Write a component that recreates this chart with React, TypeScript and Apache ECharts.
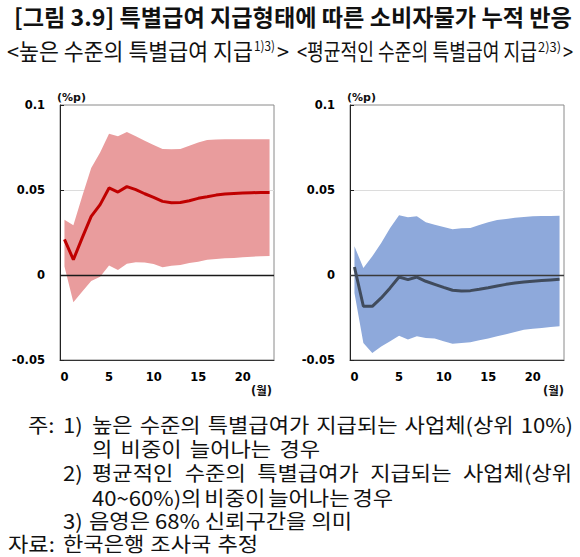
import React, { useEffect, useRef } from "react";
import * as echarts from "echarts";

const months = ["0","1","2","3","4","5","6","7","8","9","10","11","12","13","14","15","16","17","18","19","20","21","22","23"];
const yTicks = { min: -0.05, max: 0.1, step: 0.05 };

const leftMean = [0.021, 0.009, 0.022, 0.0345, 0.0414, 0.0512, 0.0488, 0.052, 0.0502, 0.0478, 0.0457, 0.0433, 0.0425, 0.0427, 0.0437, 0.0451, 0.046, 0.047, 0.0476, 0.048, 0.0482, 0.0484, 0.0486, 0.0486];
const leftUpper = [0.0325, 0.0292, 0.0465, 0.063, 0.072, 0.0831, 0.0816, 0.0841, 0.0816, 0.079, 0.0765, 0.0741, 0.074, 0.0741, 0.076, 0.078, 0.0794, 0.0797, 0.0798, 0.0798, 0.0798, 0.0798, 0.0798, 0.0798];
const leftLower = [0.005, -0.016, -0.0097, -0.0035, -0.001, 0.0056, 0.003, 0.0066, 0.0075, 0.0073, 0.0065, 0.0045, 0.0055, 0.0059, 0.007, 0.0078, 0.009, 0.0094, 0.0098, 0.01, 0.0104, 0.0108, 0.011, 0.0112];

const rightMean = [0.0047, -0.0184, -0.0184, -0.0135, -0.0076, -0.0012, -0.0027, -0.0012, -0.0037, -0.0055, -0.0073, -0.009, -0.0094, -0.0092, -0.0084, -0.0075, -0.0065, -0.0055, -0.0047, -0.0041, -0.0037, -0.0033, -0.0029, -0.0025];
const rightUpper = [0.0169, 0.0041, 0.011, 0.0188, 0.0276, 0.0351, 0.0339, 0.0345, 0.031, 0.0296, 0.0282, 0.0269, 0.0275, 0.0276, 0.0294, 0.031, 0.0324, 0.0329, 0.0337, 0.0341, 0.0345, 0.0347, 0.0347, 0.0349];
const rightLower = [-0.0106, -0.04, -0.0459, -0.042, -0.039, -0.0357, -0.038, -0.0361, -0.0371, -0.0373, -0.039, -0.0404, -0.04, -0.0396, -0.0384, -0.0373, -0.0361, -0.0349, -0.0335, -0.0322, -0.0316, -0.0312, -0.0306, -0.0302];

const titleText = "[그림 3.9] 특별급여 지급형태에 따른 소비자물가 누적 반응";
const subLeft = "<높은 수준의 특별급여 지급";
const subLeftSup = "1)3)";
const subRight = "<평균적인 수준의 특별급여 지급";
const subRightSup = "2)3)";
const yUnit = "(%p)";
const xUnit = "(월)";

const KFONT = '"Noto Sans CJK KR", "Noto Sans", sans-serif';
const AFONT = '"DejaVu Sans", "Noto Sans CJK KR", sans-serif';

export default function App() {
  const ref = useRef<HTMLDivElement>(null);

  useEffect(() => {
    if (!ref.current) return;
    const chart = echarts.init(ref.current, null, { renderer: "svg" });
    const canvas = document.createElement("canvas");
    const ctx = canvas.getContext("2d")!;
    const measure = (t: string, size: number, weight: string) => {
      ctx.font = `${weight} ${size}px ${KFONT}`;
      return ctx.measureText(t).width;
    };
    const txt = (t: string, x: number, y: number, size: number, weight: string, sy: number, family = KFONT) => ({
      type: "text",
      x,
      y,
      scaleY: sy,
      silent: true,
      style: { text: t, x: 0, y: 0, fontSize: size, lineHeight: Math.ceil(size), fontWeight: weight, fontFamily: family, fill: "#111", align: "left", verticalAlign: "middle" },
    });
    const justify = (words: string[], x0: number, x1: number, y: number, size: number, weight: string, sy: number) => {
      const ws = words.map((w) => measure(w, size, weight));
      const total = ws.reduce((a, b) => a + b, 0);
      const gap = words.length > 1 ? (x1 - x0 - total) / (words.length - 1) : 0;
      let x = x0;
      const out: any[] = [];
      words.forEach((w, i) => {
        out.push(txt(w, x, y, size, weight, sy));
        x += ws[i] + gap;
      });
      return out;
    };
    const fit = (t: string, x0: number, x1: number, y: number, target: number, weight: string) => {
      const sx = (x1 - x0) / measure(t, target, weight);
      const size = target * sx;
      return { el: txt(t, x0, y, size, weight, 1 / sx), size, sy: 1 / sx };
    };

    const NT = 20;
    const nsx = 263 / measure("음영은 68% 신뢰구간을 의미", NT, "normal");
    const NS = NT * nsx;
    const NSY = 1 / nsx;

    const graphics: any[] = [];
    graphics.push(fit(titleText, 14, 572, 16.5, 23, "bold").el);
    const sl = fit(subLeft, 7, 253, 50, 22.5, "normal");
    graphics.push(sl.el);
    graphics.push(fit(subLeftSup, 254, 275, 46, 13, "normal").el);
    graphics.push(txt(">", 277, 50, sl.size, "normal", sl.sy));
    const sr = fit(subRight, 297, 537, 50, 22.5, "normal");
    graphics.push(sr.el);
    graphics.push(fit(subRightSup, 538, 561, 46, 13, "normal").el);
    graphics.push(txt(">", 563, 50, sr.size, "normal", sr.sy));

    graphics.push(txt(yUnit, 57, 97.5, 11, "bold", 1, AFONT));
    graphics.push(txt(yUnit, 347, 97.5, 11, "bold", 1, AFONT));
    graphics.push(txt(xUnit, 251, 391, 11.5, "bold", 1, AFONT));
    graphics.push(txt(xUnit, 543, 391, 11.5, "bold", 1, AFONT));

    graphics.push(txt("주:", 28, 424, NS, "normal", NSY));
    graphics.push(txt("1)", 63, 424, NS, "normal", NSY));
    graphics.push(...justify(["높은", "수준의", "특별급여가", "지급되는", "사업체(상위", "10%)"], 92, 573, 424, NS, "normal", NSY));
    graphics.push(...justify(["의", "비중이", "늘어나는", "경우"], 92, 320, 448, NS, "normal", NSY));
    graphics.push(txt("2)", 63, 472, NS, "normal", NSY));
    graphics.push(...justify(["평균적인", "수준의", "특별급여가", "지급되는", "사업체(상위"], 92, 572, 472, NS, "normal", NSY));
    graphics.push(...justify(["40~60%)의", "비중이", "늘어나는", "경우"], 92, 393, 497, NS, "normal", NSY));
    graphics.push(txt("3)", 63, 520, NS, "normal", NSY));
    graphics.push(...justify(["음영은", "68%", "신뢰구간을", "의미"], 89, 352, 520, NS, "normal", NSY));
    graphics.push(txt("자료:", 8, 543, NS, "normal", NSY));
    graphics.push(...justify(["한국은행", "조사국", "추정"], 63, 258, 543, NS, "normal", NSY));

    const gridLefts = [60, 350];
    const panels = [
      { mean: leftMean, upper: leftUpper, lower: leftLower, band: "#E99C9D", line: "#C00000", zero: "#1a1a1a" },
      { mean: rightMean, upper: rightUpper, lower: rightLower, band: "#8EA9DB", line: "#404B5C", zero: "#3a3a3a" },
    ];

    const labelStyle = { fontFamily: AFONT, fontWeight: "bold", fontSize: 11.5, color: "#000" };

    const series: any[] = [];
    panels.forEach((p, i) => {
      const diff = p.upper.map((u, k) => u - p.lower[k]);
      series.push({
        type: "line", xAxisIndex: i, yAxisIndex: i, data: p.lower, stack: "b" + i, stackStrategy: "all",
        symbol: "none", lineStyle: { opacity: 0, width: 0 }, silent: true, z: 2,
      });
      series.push({
        type: "line", xAxisIndex: i, yAxisIndex: i, data: diff, stack: "b" + i, stackStrategy: "all",
        symbol: "none", lineStyle: { opacity: 0, width: 0 }, areaStyle: { color: p.band, opacity: 1 }, silent: true, z: 2,
        markLine: {
          silent: true, symbol: "none", label: { show: false }, animation: false,
          lineStyle: { color: p.zero, width: 1.3, type: "solid" },
          emphasis: { disabled: true },
          data: [{ yAxis: 0 }],
        },
      });
      series.push({
        type: "line", xAxisIndex: i, yAxisIndex: i, data: p.mean, symbol: "none", silent: true, z: 5,
        lineStyle: { color: p.line, width: 3 },
      });
    });

    chart.setOption({
      animation: false,
      backgroundColor: "#fff",
      grid: gridLefts.map((l) => ({ left: l, top: 105, width: 214, height: 255, show: true, borderColor: "#8a8a8a", borderWidth: 1, backgroundColor: "transparent", containLabel: false })),
      xAxis: gridLefts.map((_, i) => ({
        type: "category", gridIndex: i, data: months, boundaryGap: true,
        axisLine: { show: true, onZero: false, lineStyle: { color: "#333", width: 1 } },
        axisTick: { show: false },
        axisLabel: { ...labelStyle, margin: 11, interval: (idx: number) => idx % 5 === 0 },
        splitLine: { show: false },
      })),
      yAxis: gridLefts.map((_, i) => ({
        type: "value", gridIndex: i, min: yTicks.min, max: yTicks.max, interval: yTicks.step,
        axisLine: { show: true, lineStyle: { color: "#222", width: 1 } },
        axisTick: { show: true, inside: true, length: 4, lineStyle: { color: "#222" } },
        axisLabel: { ...labelStyle, margin: 15 },
        splitLine: { show: true, lineStyle: { color: ["transparent", "transparent", "#dcdcdc", "transparent"], width: 1 } },
      })),
      series,
      graphic: graphics,
    });
    return () => chart.dispose();
  }, []);

  return <div ref={ref} style={{ position: "absolute", left: 0, top: 0, width: 580, height: 557, background: "#fff" }} />;
}
